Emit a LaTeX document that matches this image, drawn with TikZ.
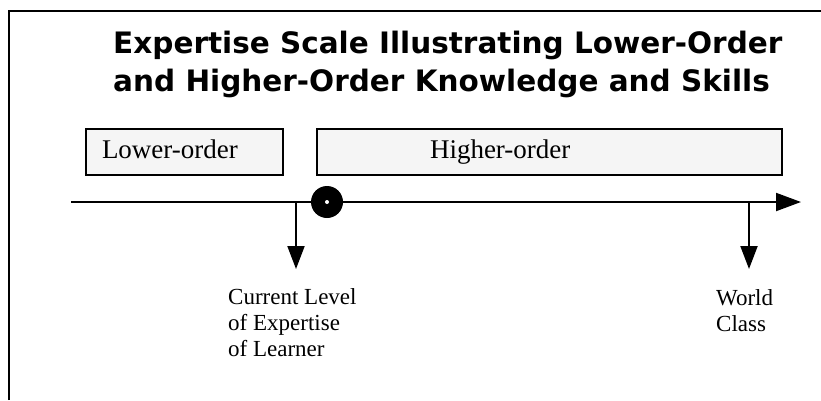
\documentclass[tikz,border=0pt]{standalone}
\usepackage{fontspec}
\setmainfont{Liberation Serif}
\newfontfamily\titlefont{DejaVu Sans}
\usetikzlibrary{arrows.meta}

\tikzset{
    levelbox/.style={draw=black, line width=2pt, fill=gray!8, anchor=north west,
        minimum height=46pt, inner ysep=0pt, align=left,
        text height=18.4pt, text depth=5.9pt, font=\fontsize{27}{32}\selectfont},
    scaleline/.style={line width=2pt, -{Triangle[length=25pt,width=18pt]}},
    markarrow/.style={line width=2pt, -{Triangle[length=23pt,width=17pt]}},
    marklabel/.style={anchor=base west, inner sep=0pt, align=left,
        font=\fontsize{23}{26}\selectfont},
}

% a point on the scale with an arrow down to its label
% (#3/#4: x and last baseline of the label)
\newcommand{\levelMark}[5]{%
    \coordinate (#1) at (#2,202);
    \coordinate (#1Tip) at (#2,269);
    \draw[markarrow] (#1) -- (#1Tip);
    \node[marklabel] (#1Label) at (#3,#4) {#5};
}

\begin{document}
\begin{tikzpicture}[x=1pt,y=-1pt]
    \useasboundingbox (0,0) rectangle (821,400);

    % frame, only its left and top edges are in view
    \coordinate (frameBottom) at (9,400);
    \coordinate (frameCorner) at (9,11);
    \coordinate (frameRight) at (821,11);
    \draw[line width=2pt] (frameBottom) -- (frameCorner) -- (frameRight);

    \node[anchor=base west, inner sep=0pt, align=left,
        font=\titlefont\bfseries\fontsize{29.5}{38}\selectfont] (title) at (113,91)
        {Expertise Scale Illustrating Lower-Order\\and Higher-Order Knowledge and Skills};

    \node[levelbox, text width=165pt, inner xsep=16pt] (lower) at (85,128) {Lower-order};
    \node[levelbox, text width=239pt, inner xsep=113pt] (higher) at (316,128) {Higher-order};

    % the scale
    \coordinate (axisStart) at (71,202);
    \coordinate (axisEnd) at (801,202);
    \draw[scaleline] (axisStart) -- (axisEnd);

    \levelMark{current}{296}{228}{356}{Current Level\\of Expertise\\of Learner}
    \levelMark{world}{749}{716}{331}{World\\Class}

    \node[circle, fill=black, minimum size=32pt, inner sep=0pt] (split) at (327,202) {};
    \node[circle, fill=white, minimum size=4pt, inner sep=0pt] (splitDot) at (split) {};
\end{tikzpicture}
\end{document}
